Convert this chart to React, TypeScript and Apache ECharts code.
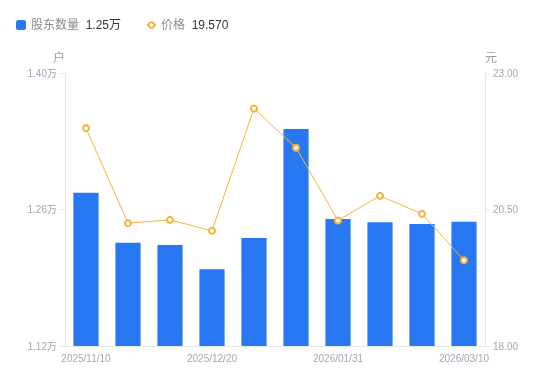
import React, { useEffect, useRef } from "react";
import * as echarts from "echarts";

const categories = [
  "2025/11/10", "2025/11/20", "2025/11/30", "2025/12/20", "2025/12/31",
  "2026/01/10", "2026/01/31", "2026/02/10", "2026/02/20", "2026/03/10",
];
const holders = [12772, 12259, 12236, 11987, 12308, 13426, 12503, 12469, 12451, 12475];
const prices = [21.99, 20.25, 20.31, 20.11, 22.35, 21.63, 20.3, 20.75, 20.42, 19.57];
const leftTicks = [11200, 12600, 14000];
const rightTicks = [18, 20.5, 23];
const holderLegendValue = "1.25万";
const priceLegendValue = "19.570";

const FONT = "'Liberation Sans', 'Noto Sans CJK SC', sans-serif";
const LABEL_COLOR = "#a3a6b4";
const AXIS_COLOR = "#e6e6e6";

const legendText = {
  rich: {
    a: { color: "#8c8c8c", fontSize: 12, fontFamily: FONT },
    b: { color: "#333333", fontSize: 12, fontFamily: FONT },
  },
};

export default function App() {
  const ref = useRef<HTMLDivElement>(null);
  useEffect(() => {
    if (!ref.current) return;
    const chart = echarts.init(ref.current, undefined, { renderer: "svg" });
    chart.setOption({
      animation: false,
      textStyle: { fontFamily: FONT },
      legend: [
        {
          left: 11,
          top: 14,
          itemWidth: 10,
          itemHeight: 10,
          data: [{ name: "股东数量", icon: "roundRect" }],
          formatter: (name: string) => `{a|${name}}  {b|${holderLegendValue}}`,
          textStyle: legendText,
        },
        {
          left: 141,
          top: 14,
          itemWidth: 9,
          itemHeight: 7,
          data: [{ name: "价格" }],
          formatter: (name: string) => `{a|${name}}  {b|${priceLegendValue}}`,
          textStyle: legendText,
        },
      ],
      grid: { left: 65, right: 65, top: 73, bottom: 35 },
      xAxis: {
        type: "category",
        data: categories,
        axisLine: { show: true, lineStyle: { color: AXIS_COLOR } },
        axisTick: { show: false },
        axisLabel: {
          interval: 2,
          color: LABEL_COLOR,
          fontSize: 10,
          margin: 7,
          fontFamily: FONT,
        },
      },
      yAxis: [
        {
          type: "value",
          name: "户",
          nameGap: 9,
          nameTextStyle: { color: "#999999", fontSize: 12, align: "right", fontFamily: FONT },
          min: 11200,
          max: 14000,
          interval: 1400,
          axisLine: { show: true, lineStyle: { color: AXIS_COLOR } },
          axisTick: { show: true, length: 5, lineStyle: { color: AXIS_COLOR } },
          splitLine: { show: false },
          axisLabel: {
            color: LABEL_COLOR,
            fontSize: 10,
            fontFamily: FONT,
            customValues: leftTicks,
            formatter: (v: number) => (v / 10000).toFixed(2) + "万",
          },
        },
        {
          type: "value",
          name: "元",
          nameGap: 9,
          nameTextStyle: { color: "#999999", fontSize: 12, align: "left", fontFamily: FONT },
          min: 18,
          max: 23,
          position: "right",
          axisLine: { show: true, lineStyle: { color: AXIS_COLOR } },
          axisTick: { show: true, length: 5, lineStyle: { color: AXIS_COLOR }, customValues: rightTicks },
          splitLine: { show: false },
          axisLabel: {
            color: LABEL_COLOR,
            fontSize: 10,
            fontFamily: FONT,
            customValues: rightTicks,
            formatter: (v: number) => v.toFixed(2),
          },
        },
      ],
      series: [
        {
          name: "股东数量",
          type: "bar",
          yAxisIndex: 0,
          data: holders,
          barWidth: "60%",
          itemStyle: { color: "#2878f4" },
        },
        {
          name: "价格",
          type: "line",
          yAxisIndex: 1,
          data: prices,
          symbol: "emptyCircle",
          symbolSize: 6,
          lineStyle: { color: "#f7b239", width: 1 },
          itemStyle: { color: "#f7b239", borderWidth: 2 },
        },
      ],
    });
    return () => chart.dispose();
  }, []);
  return (
    <div
      ref={ref}
      style={{ position: "fixed", left: 0, top: 0, width: 550, height: 381 }}
    />
  );
}
